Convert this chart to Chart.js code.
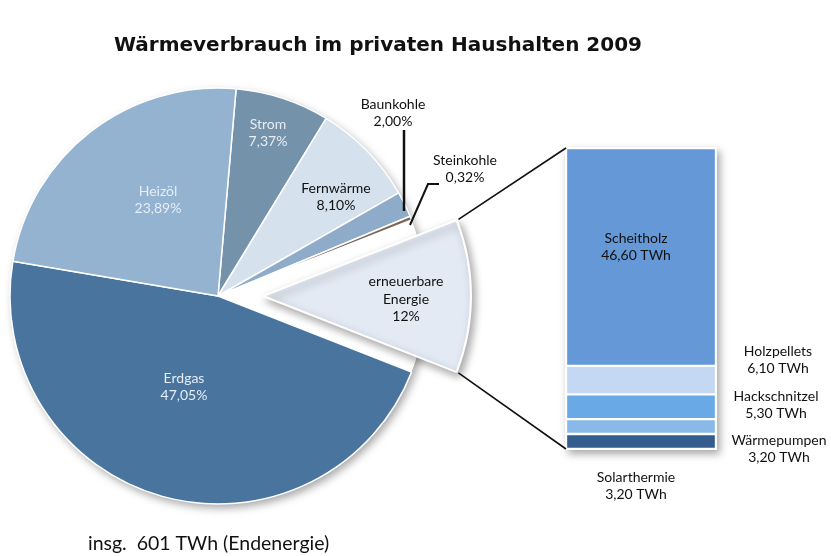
<!DOCTYPE html>
<html>
<head>
<meta charset="utf-8">
<script src="https://cdn.jsdelivr.net/npm/chart.js@4"></script>
<style>
  body { margin: 0; background: #fff; }
  #wrap { position: relative; width: 831px; height: 556px; }
  #wrap canvas { position: absolute; left: 0; top: 0; }
</style>
</head>
<body>
<div id="wrap">
  <canvas id="pieMain" width="831" height="556"></canvas>
  <canvas id="pieOut" width="831" height="556"></canvas>
  <canvas id="barCanvas" width="831" height="556"></canvas>
</div>
<script>
// Anteile am Wärmeverbrauch 2009 (%), im Uhrzeigersinn ab oben
const pieLabels = ['Strom', 'Fernwärme', 'Baunkohle', 'Steinkohle', 'erneuerbare Energie', 'Erdgas', 'Heizöl'];
const pieValues = [7.37, 8.10, 2.00, 0.32, 12, 47.05, 23.89];
const pieDecimals = [2, 2, 2, 2, 0, 2, 2];
const pieColors = ['#7592ab', '#d5e1ed', '#8eacc9', '#7d6459', '#e4eaf4', '#48749e', '#93b3d1'];
const explodedIndex = 4;

// erneuerbare Energie aufgeteilt (TWh), von unten nach oben
const barLabels = ['Solarthermie', 'Wärmepumpen', 'Hackschnitzel', 'Holzpellets', 'Scheitholz'];
const barValues = [3.20, 3.20, 5.30, 6.10, 46.60];
const barColors = ['#345c8c', '#88b9e8', '#69aae6', '#c4d8f4', '#6498d6'];

const FONT = 'Lato, "Open Sans", sans-serif';
const W = 831, H = 556;
const pieCenter = { x: 218, y: 296 };
const pieRadius = 208;
const pieRotation = 5;
const explodeBy = 45;

const fmtPct = (v, d) => v.toFixed(d).replace('.', ',') + '%';
const fmtTWh = v => v.toFixed(2).replace('.', ',') + ' TWh';

// where the exploded slice sits
const total = pieValues.reduce((a, b) => a + b, 0);
const before = pieValues.slice(0, explodedIndex).reduce((a, b) => a + b, 0);
const midDeg = pieRotation + (before + pieValues[explodedIndex] / 2) / total * 360;
const outCenter = {
  x: pieCenter.x + explodeBy * Math.sin(midDeg * Math.PI / 180),
  y: pieCenter.y - explodeBy * Math.cos(midDeg * Math.PI / 180)
};

function padFor(c) {
  const hx = 210, hy = 250;
  return { left: c.x - hx, right: W - (c.x + hx), top: c.y - hy, bottom: H - (c.y + hy) };
}

const diskShadow = {
  id: 'diskShadow',
  beforeDatasetsDraw(chart) {
    const arc = chart.getDatasetMeta(0).data[0];
    const ctx = chart.ctx;
    ctx.save();
    ctx.shadowColor = 'rgba(0,0,0,0.35)';
    ctx.shadowBlur = 8;
    ctx.shadowOffsetX = 3;
    ctx.shadowOffsetY = 4;
    ctx.fillStyle = '#fff';
    ctx.beginPath();
    ctx.arc(arc.x, arc.y, arc.outerRadius, 0, Math.PI * 2);
    ctx.fill();
    ctx.restore();
  }
};

const sliceShadow = {
  id: 'sliceShadow',
  beforeDatasetsDraw(chart) {
    const ctx = chart.ctx;
    ctx.save();
    ctx.shadowColor = 'rgba(0,0,0,0.35)';
    ctx.shadowBlur = 8;
    ctx.shadowOffsetX = 3;
    ctx.shadowOffsetY = 4;
  },
  afterDatasetsDraw(chart) { chart.ctx.restore(); }
};

const pieOptions = pad => ({
  responsive: false,
  animation: false,
  rotation: pieRotation,
  radius: pieRadius,
  layout: { padding: pad },
  plugins: { legend: { display: false }, tooltip: { enabled: false } }
});

const pieMain = new Chart(document.getElementById('pieMain'), {
  type: 'pie',
  data: {
    labels: pieLabels,
    datasets: [{
      data: pieValues,
      backgroundColor: pieColors.map((c, i) => i === explodedIndex ? 'rgba(0,0,0,0)' : c),
      borderColor: '#fff',
      borderWidth: pieColors.map((c, i) => i === explodedIndex ? 0 : 1.5),
      clip: false
    }]
  },
  options: pieOptions(padFor(pieCenter)),
  plugins: [diskShadow]
});

const pieOut = new Chart(document.getElementById('pieOut'), {
  type: 'pie',
  data: {
    labels: pieLabels,
    datasets: [{
      data: pieValues,
      backgroundColor: pieColors.map((c, i) => i === explodedIndex ? c : 'rgba(0,0,0,0)'),
      borderColor: '#fff',
      borderWidth: pieColors.map((c, i) => i === explodedIndex ? 2 : 0),
      clip: false
    }]
  },
  options: pieOptions(padFor(outCenter)),
  plugins: [sliceShadow]
});

// label anchors (text centre), title and leader lines
const pieTextPos = [[268, 133], [336, 197], [393, 113], [465, 169], [406, 299], [184, 387], [158, 200]];
const pieTextColor = ['#e6edf4', '#111', '#111', '#111', '#111', '#e6edf4', '#e6edf4'];
const barTextPos = [[636, 486], [779, 449], [776, 405], [778, 360], [636, 247]];

const barShadow = {
  id: 'barShadow',
  beforeDatasetsDraw(chart) {
    const a = chart.chartArea;
    const ctx = chart.ctx;
    ctx.save();
    ctx.shadowColor = 'rgba(0,0,0,0.35)';
    ctx.shadowBlur = 8;
    ctx.shadowOffsetX = 3;
    ctx.shadowOffsetY = 4;
    ctx.fillStyle = '#fff';
    ctx.fillRect(a.left - 1, a.top - 1, a.width + 2, a.height + 2);
    ctx.restore();
  }
};

function drawLines(ctx, lines, x, y, lh) {
  const y0 = y - (lines.length - 1) * lh / 2;
  lines.forEach((t, i) => ctx.fillText(t, x, y0 + i * lh));
}

const annotations = {
  id: 'annotations',
  afterDraw(chart) {
    const ctx = chart.ctx;
    ctx.save();

    // connectors from exploded slice to bar
    const arc = pieOut.getDatasetMeta(0).data[explodedIndex];
    const topBar = chart.getDatasetMeta(barValues.length - 1).data[0];
    const botBar = chart.getDatasetMeta(0).data[0];
    const r = arc.outerRadius + 2;
    ctx.strokeStyle = '#111';
    ctx.lineWidth = 1.6;
    ctx.beginPath();
    ctx.moveTo(arc.x + r * Math.cos(arc.startAngle), arc.y + r * Math.sin(arc.startAngle));
    ctx.lineTo(topBar.x - topBar.width / 2, topBar.y);
    ctx.moveTo(arc.x + r * Math.cos(arc.endAngle), arc.y + r * Math.sin(arc.endAngle));
    ctx.lineTo(botBar.x - botBar.width / 2, botBar.base);
    ctx.stroke();

    // leader lines for the small slices
    ctx.lineWidth = 2.5;
    ctx.beginPath();
    ctx.moveTo(404, 130); ctx.lineTo(404, 211);
    ctx.stroke();
    ctx.lineWidth = 2;
    ctx.beginPath();
    ctx.moveTo(410, 225); ctx.lineTo(428, 184); ctx.lineTo(439, 184);
    ctx.stroke();

    ctx.textAlign = 'center';
    ctx.textBaseline = 'middle';
    ctx.font = '14px ' + FONT;
    pieLabels.forEach((lab, i) => {
      const lines = i === explodedIndex ? ['erneuerbare', 'Energie'] : [lab];
      lines.push(fmtPct(pieValues[i], pieDecimals[i]));
      ctx.fillStyle = pieTextColor[i];
      drawLines(ctx, lines, pieTextPos[i][0], pieTextPos[i][1], 17.5);
    });
    ctx.fillStyle = '#111';
    barLabels.forEach((lab, i) => {
      drawLines(ctx, [lab, fmtTWh(barValues[i])], barTextPos[i][0], barTextPos[i][1], 17.5);
    });

    ctx.font = 'bold 20px "DejaVu Sans", sans-serif';
    ctx.fillText('Wärmeverbrauch im privaten Haushalten 2009', 378, 46);
    ctx.textAlign = 'left';
    ctx.font = '19.5px ' + FONT;
    ctx.fillText('insg.  601 TWh (Endenergie)', 88, 544);
    ctx.restore();
  }
};

const barChart = new Chart(document.getElementById('barCanvas'), {
  type: 'bar',
  data: {
    labels: ['erneuerbare Energie'],
    datasets: barLabels.map((lab, i) => ({
      label: lab,
      data: [barValues[i]],
      backgroundColor: barColors[i],
      borderColor: '#fff',
      borderWidth: 1.5,
      borderSkipped: false,
      barPercentage: 1,
      categoryPercentage: 1
    }))
  },
  options: {
    responsive: false,
    animation: false,
    layout: { padding: { left: 566, right: W - 716, top: 148, bottom: H - 449 } },
    scales: {
      x: { stacked: true, display: false },
      y: { stacked: true, display: false, min: 0, max: barValues.reduce((a, b) => a + b, 0) }
    },
    plugins: { legend: { display: false }, tooltip: { enabled: false } }
  },
  plugins: [barShadow, annotations]
});
</script>
</body>
</html>
